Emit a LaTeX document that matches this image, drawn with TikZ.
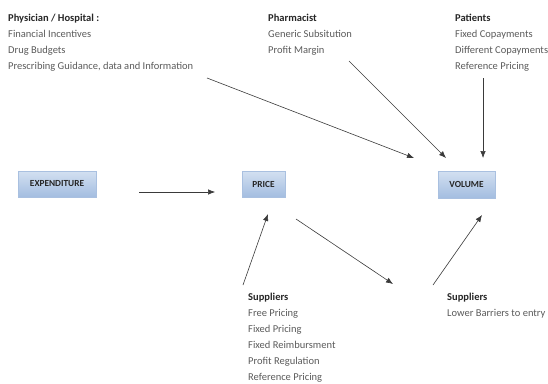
\documentclass[tikz,border=0pt]{standalone}
\usepackage{fontspec}
\setmainfont{Carlito}
\usetikzlibrary{arrows.meta}
\tikzset{>={Latex[length=7pt,width=5.5pt]}}
\definecolor{boxline}{HTML}{A9C0E0}
\definecolor{boxtop}{HTML}{D3E0F1}
\definecolor{boxbot}{HTML}{A3BDE0}
\definecolor{headtxt}{HTML}{262626}
\definecolor{itemtxt}{HTML}{5A5A5A}
\definecolor{arr}{HTML}{3A3A3A}
\tikzset{
  box/.style={draw=boxline,top color=boxtop,bottom color=boxbot,inner sep=0pt,
    font=\fontsize{9.3}{11}\selectfont\bfseries,text=headtxt},
  lbl/.style={anchor=north west,inner sep=0pt,align=left,text=itemtxt,
    font=\fontsize{10.5}{16.3}\selectfont},
  link/.style={->,draw=arr,line width=0.6pt}
}
\newcommand{\hd}[1]{{\color{headtxt}\bfseries #1}}
\begin{document}
\begin{tikzpicture}[x=1pt,y=-1pt]
\useasboundingbox (0,0) rectangle (548,383);
% the three boxes
\node [box,minimum width=78pt,minimum height=26pt] (exp) at (57,184) {EXPENDITURE};
\node [box,minimum width=43pt,minimum height=26pt] (price) at (263.5,184) {PRICE};
\node [box,minimum width=57pt,minimum height=27pt] (vol) at (466.5,184.5) {VOLUME};
% text blocks
\node [lbl] (phys) at (8,13.5) {\hd{Physician / Hospital :}\\Financial Incentives\\Drug Budgets\\Prescribing Guidance, data and Information};
\node [lbl] (pharm) at (268,13.5) {\hd{Pharmacist}\\Generic Subsitution\\Profit Margin};
\node [lbl] (pat) at (455,13.5) {\hd{Patients}\\Fixed Copayments\\Different Copayments\\Reference Pricing};
\node [lbl,font=\fontsize{10.5}{16}\selectfont] (supl) at (248,292.5) {\hd{Suppliers}\\Free Pricing\\Fixed Pricing\\Fixed Reimbursment\\Profit Regulation\\Reference Pricing};
\node [lbl,font=\fontsize{10.5}{16}\selectfont] (supr) at (447,292.5) {\hd{Suppliers}\\Lower Barriers to entry};
% arrow ends
\coordinate (physout) at (207,78);
\coordinate (pharmout) at (349,61);
\coordinate (patout) at (483,78);
\coordinate (volin1) at (414,158);
\coordinate (volin2) at (446,158);
\coordinate (volin3) at (483,158);
\coordinate (expout) at (139,192);
\coordinate (pricein) at (215,192);
\coordinate (suplout) at (243,285);
\coordinate (pricein2) at (268,214);
\coordinate (priceout) at (296,219);
\coordinate (midpt) at (393,284);
\coordinate (suprout) at (433,285);
\coordinate (volin4) at (482,215);
\draw [link] (physout) -- (volin1);
\draw [link] (pharmout) -- (volin2);
\draw [link] (patout) -- (volin3);
\draw [link] (expout) -- (pricein);
\draw [link] (suplout) -- (pricein2);
\draw [link] (priceout) -- (midpt);
\draw [link] (suprout) -- (volin4);
\end{tikzpicture}
\end{document}
